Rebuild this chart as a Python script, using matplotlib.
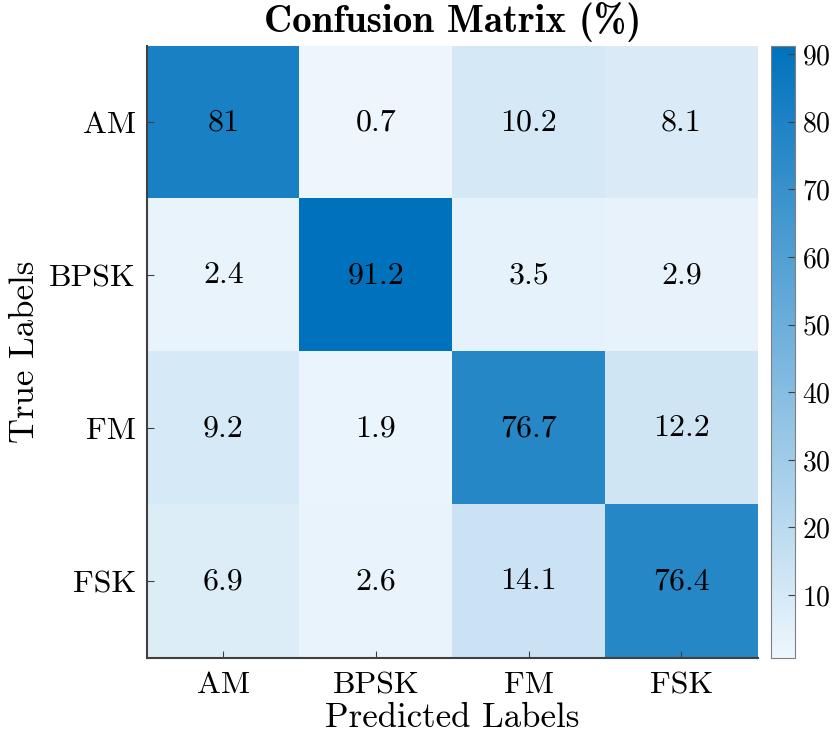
import numpy as np
import matplotlib
matplotlib.use("Agg")
import matplotlib.pyplot as plt
from matplotlib.colors import LinearSegmentedColormap

# Data
classes = ["AM", "BPSK", "FM", "FSK"]
conf = np.array([
    [81.0, 0.7, 10.2, 8.1],
    [2.4, 91.2, 3.5, 2.9],
    [9.2, 1.9, 76.7, 12.2],
    [6.9, 2.6, 14.1, 76.4],
])
cbar_ticks = [10, 20, 30, 40, 50, 60, 70, 80, 90]

plt.rcParams["font.family"] = ["cmr10", "DejaVu Serif"]
plt.rcParams["axes.formatter.use_mathtext"] = True

# MATLAB-like light-to-blue colormap
cmap = LinearSegmentedColormap.from_list("mblue", ["#EDF6FD", "#0072BD"])

fig = plt.figure(figsize=(8.4, 7.44), dpi=100)
ax = fig.add_axes([0.175, 0.1156, 0.727, 0.8226])
cax = fig.add_axes([0.918, 0.1156, 0.0286, 0.8226])

im = ax.imshow(conf, cmap=cmap, vmin=conf.min(), vmax=conf.max(), aspect="auto")

# Cell values
for i in range(conf.shape[0]):
    for j in range(conf.shape[1]):
        ax.text(j, i, "{:g}".format(conf[i, j]), ha="center", va="center",
                fontsize=23, color="black")

ax.set_xticks(range(len(classes)))
ax.set_yticks(range(len(classes)))
ax.set_xticklabels(classes, fontsize=23)
ax.set_yticklabels(classes, fontsize=23)
ax.tick_params(axis="y", direction="in", length=5, color="#404040", pad=8)
ax.tick_params(axis="x", direction="in", length=5, color="#404040", pad=10)
for side in ["top", "right"]:
    ax.spines[side].set_visible(False)
for side in ["left", "bottom"]:
    ax.spines[side].set_color("#404040")
    ax.spines[side].set_linewidth(1.5)

ax.set_xlabel("Predicted Labels", fontsize=25, labelpad=2)
ax.set_ylabel("True Labels", fontsize=25, labelpad=6)
ax.set_title("Confusion Matrix (%)", fontsize=28, fontfamily="cmb10", pad=10)

# Colorbar
cb = fig.colorbar(im, cax=cax, ticks=cbar_ticks)
cb.outline.set_edgecolor("#7F7F7F")
cb.ax.tick_params(direction="in", length=5, labelsize=20, color="#404040", pad=5)

fig.savefig("out.png", dpi=100)
